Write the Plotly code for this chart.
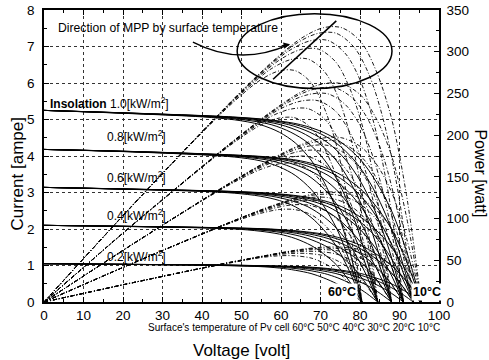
import plotly.graph_objects as go

# ---------------- data ----------------
temperatures = ["60°C", "50°C", "40°C", "30°C", "20°C", "10°C"]
insolations = ["1.0", "0.8", "0.6", "0.4", "0.2"]

# voltage sample points along the I-V curves, one list per surface temperature [V]
volt_60C = [0, 20.1, 40.3, 48.3, 54.7, 59.6, 63.6, 67.6, 70.8, 74.1, 77.3, 80.5]
volt_50C = [0, 21.1, 42.3, 50.7, 57.5, 62.5, 66.8, 71.0, 74.4, 77.7, 81.1, 84.5]
volt_40C = [0, 22.0, 44.0, 52.8, 59.8, 65.1, 69.5, 73.9, 77.4, 81.0, 84.5, 88.0]
volt_30C = [0, 22.8, 45.5, 54.6, 61.9, 67.3, 71.9, 76.4, 80.1, 83.7, 87.4, 91.0]
volt_20C = [0, 23.4, 46.8, 56.1, 63.6, 69.2, 73.9, 78.5, 82.3, 86.0, 89.8, 93.5]
volt_10C = [0, 23.9, 47.8, 57.3, 64.9, 70.7, 75.4, 80.2, 84.0, 87.9, 91.7, 95.5]
voltage_by_temp = [volt_60C, volt_50C, volt_40C, volt_30C, volt_20C, volt_10C]

# current at those sample points, one list per insolation [A]
amp_10 = [5.25, 5.17, 5.07, 4.99, 4.86, 4.65, 4.36, 3.89, 3.31, 2.52, 1.42, 0]
amp_08 = [4.18, 4.12, 4.03, 3.97, 3.87, 3.70, 3.47, 3.09, 2.63, 2.01, 1.13, 0]
amp_06 = [3.14, 3.09, 3.03, 2.98, 2.90, 2.78, 2.61, 2.32, 1.98, 1.51, 0.85, 0]
amp_04 = [2.10, 2.07, 2.03, 2.00, 1.94, 1.86, 1.74, 1.55, 1.32, 1.01, 0.57, 0]
amp_02 = [1.05, 1.03, 1.01, 0.99, 0.97, 0.93, 0.87, 0.78, 0.66, 0.50, 0.28, 0]
current_by_insolation = [amp_10, amp_08, amp_06, amp_04, amp_02]

# locus of maximum power points (60°C -> 10°C)
mpp_voltage = [58, 74]
mpp_power = [267, 337]

x_ticks = [0, 10, 20, 30, 40, 50, 60, 70, 80, 90, 100]
current_ticks = [0, 1, 2, 3, 4, 5, 6, 7, 8]
power_ticks = [0, 50, 100, 150, 200, 250, 300, 350]

# ---------------- figure ----------------
FONT = "Liberation Sans, Arial, Helvetica, sans-serif"
fig = go.Figure()

for amps in current_by_insolation:
    for volts in voltage_by_temp:
        fig.add_trace(go.Scatter(
            x=volts, y=amps, mode="lines", yaxis="y",
            line=dict(color="black", width=1, shape="spline", smoothing=0.9),
            hoverinfo="skip", showlegend=False))
        watts = [v * a for v, a in zip(volts, amps)]
        fig.add_trace(go.Scatter(
            x=volts, y=watts, mode="lines", yaxis="y2",
            line=dict(color="black", width=0.9, dash="4px,2px,1px,2px",
                      shape="spline", smoothing=0.9),
            hoverinfo="skip", showlegend=False))

fig.add_trace(go.Scatter(
    x=mpp_voltage, y=mpp_power, mode="lines", yaxis="y2",
    line=dict(color="black", width=1.6), hoverinfo="skip", showlegend=False))

axis_common = dict(
    showline=True, linecolor="black", linewidth=1.5, automargin=False,
    ticks="inside", ticklen=5, tickwidth=1, tickcolor="black",
    zeroline=False, tickfont=dict(family=FONT, size=13.5, color="black"),
)

fig.update_layout(
    width=489, height=360,
    margin=dict(l=44, r=50, t=10, b=58, autoexpand=False),
    paper_bgcolor="white", plot_bgcolor="white",
    font=dict(family=FONT, color="black"),
    showlegend=False,
    xaxis=dict(
        range=[0, 100], tickvals=x_ticks, mirror="ticks",
        showgrid=True, gridcolor="#333", griddash="dot", gridwidth=1,
        minor=dict(ticks="inside", ticklen=3, dtick=5, tickcolor="black", showgrid=False),
        **axis_common),
    yaxis=dict(
        range=[0, 8], tickvals=current_ticks, mirror=True, ticklabelstandoff=5,
        showgrid=True, gridcolor="#333", griddash="dot", gridwidth=1,
        minor=dict(ticks="inside", ticklen=3, dtick=0.5, tickcolor="black", showgrid=False),
        **axis_common),
    yaxis2=dict(
        range=[0, 350], tickvals=power_ticks, overlaying="y", side="right",
        showgrid=False, ticklabelstandoff=3,
        minor=dict(ticks="inside", ticklen=3, dtick=25, tickcolor="black", showgrid=False),
        **axis_common),
)

# ellipse around the maximum power points
fig.add_shape(type="circle", xref="x", yref="y", x0=48.9, x1=88.1, y0=5.85, y1=7.9,
              line=dict(color="black", width=1.5))
# curved arrow from the text to the MPP locus
fig.add_shape(type="path", xref="x", yref="y",
              path="M 37.7,7.12 Q 49.6,6.45 62,7.05",
              line=dict(color="black", width=1.3))
fig.add_annotation(x=62.3, y=7.06, xref="x", yref="y", text="", showarrow=True,
                   ax=-10, ay=2, arrowhead=2, arrowsize=1, arrowwidth=1.3,
                   arrowcolor="black")

def label(text, x, y, size=11.5, **kw):
    fig.add_annotation(x=x, y=y, xref="x", yref="y", text=text, showarrow=False,
                       xanchor="left", yanchor="middle",
                       font=dict(family=FONT, size=size, color="black"), **kw)

label("Direction of MPP by surface temperature", 3.0, 7.5, size=12.2)
label("<b>Insolation</b> 1.0[kW/m<sup>2</sup>]", 1.0, 5.45, size=12)
label("0.8[kW/m<sup>2</sup>]", 15.4, 4.56, size=12)
label("0.6[kW/m<sup>2</sup>]", 15.4, 3.42, size=12)
label("0.4[kW/m<sup>2</sup>]", 15.4, 2.38, size=12)
label("0.2[kW/m<sup>2</sup>]", 15.4, 1.26, size=12)
label("<b>60°C</b>", 71.4, 0.27, size=12.5, bgcolor="white")
label("<b>10°C</b>", 93.0, 0.27, size=12.5, bgcolor="white")

# axis titles and bottom caption
fig.add_annotation(x=-0.066, y=0.44, xref="paper", yref="paper",
                   xanchor="center", yanchor="middle",
                   text="Current [ampe]", textangle=-90, showarrow=False,
                   font=dict(family=FONT, size=17, color="black"))
fig.add_annotation(x=1.104, y=0.44, xref="paper", yref="paper",
                   xanchor="center", yanchor="middle",
                   text="Power [watt]", textangle=90, showarrow=False,
                   font=dict(family=FONT, size=16, color="black"))
fig.add_annotation(x=0.499, y=-0.165, xref="paper", yref="paper",
                   xanchor="center", yanchor="middle",
                   text="Voltage [volt]", showarrow=False,
                   font=dict(family=FONT, size=17, color="black"))
fig.add_annotation(x=1.008, y=-0.089, xref="paper", yref="paper",
                   xanchor="right", yanchor="middle",
                   text="Surface's temperature of Pv cell 60°C 50°C 40°C 30°C 20°C 10°C",
                   showarrow=False, font=dict(family=FONT, size=10, color="black"))

fig.write_html("out.html")
